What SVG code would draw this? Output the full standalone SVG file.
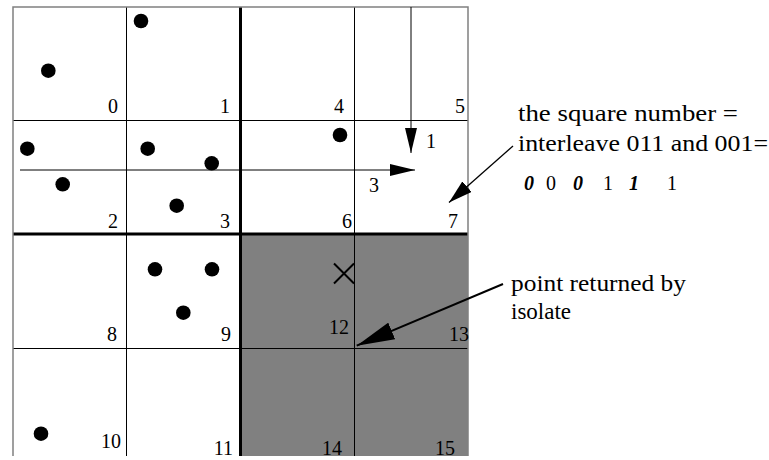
<svg xmlns="http://www.w3.org/2000/svg" width="769" height="460" viewBox="0 0 769 460">
  <style>
    text { font-family: "Liberation Serif", "Times New Roman", serif; fill: #000; }
    .num { font-size: 20px; text-anchor: end; }
    .lbl { font-size: 23px; }
    .arrlbl { font-size: 20px; text-anchor: middle; }
    .bits { font-size: 20px; }
    .bi { font-weight: bold; font-style: italic; }
    .thin { stroke: #000; stroke-width: 1; fill: none; }
    .thick { stroke: #000; stroke-width: 3; fill: none; }
    .border { stroke: #808080; stroke-width: 1.5; fill: none; }
    .pt { fill: #000; }
    .conn { stroke: #000; fill: none; }
  </style>
  <defs>
    <marker id="headS" markerUnits="userSpaceOnUse" markerWidth="25" markerHeight="12" refX="25" refY="6" orient="auto">
      <path d="M0,0 L25,6 L0,12 z" fill="#000"/>
    </marker>
    <marker id="headM" markerUnits="userSpaceOnUse" markerWidth="24" markerHeight="14" refX="24" refY="7" orient="auto">
      <path d="M0,0 L24,7 L0,14 z" fill="#000"/>
    </marker>
    <marker id="headL" markerUnits="userSpaceOnUse" markerWidth="38" markerHeight="18" refX="38" refY="9" orient="auto">
      <path d="M0,0 L38,9 L0,18 z" fill="#000"/>
    </marker>
  </defs>

  <rect width="769" height="460" fill="#fff"/>

  <rect id="shaded" x="240.5" y="234" width="227.5" height="222" fill="#808080"/>

  <g id="grid">
    <line class="thin" x1="126.5" y1="7" x2="126.5" y2="456"/>
    <line class="thin" x1="354.5" y1="7" x2="354.5" y2="456"/>
    <line class="thin" x1="13" y1="120.5" x2="468" y2="120.5"/>
    <line class="thin" x1="13" y1="348.5" x2="468" y2="348.5"/>
    <line class="thick" x1="240.5" y1="7" x2="240.5" y2="456"/>
    <line class="thick" x1="13" y1="234" x2="468" y2="234"/>
    <polyline class="border" points="13,456 13,7 468,7 468,456"/>
  </g>

  <g id="cells">
    <g id="cell-0"><text class="num" x="118" y="113">0</text></g>
    <g id="cell-1"><text class="num" x="230" y="113">1</text></g>
    <g id="cell-4"><text class="num" x="344" y="113">4</text></g>
    <g id="cell-5"><text class="num" x="465" y="113">5</text></g>
    <g id="cell-2"><text class="num" x="118" y="228">2</text></g>
    <g id="cell-3"><text class="num" x="230" y="228">3</text></g>
    <g id="cell-6"><text class="num" x="352" y="228">6</text></g>
    <g id="cell-7"><text class="num" x="458" y="228">7</text></g>
    <g id="cell-8"><text class="num" x="117" y="341">8</text></g>
    <g id="cell-9"><text class="num" x="231" y="341">9</text></g>
    <g id="cell-12"><text class="num" x="349" y="334">12</text></g>
    <g id="cell-13"><text class="num" x="469" y="341">13</text></g>
    <g id="cell-10"><text class="num" x="121" y="448">10</text></g>
    <g id="cell-11"><text class="num" x="233" y="455">11</text></g>
    <g id="cell-14"><text class="num" x="342" y="455">14</text></g>
    <g id="cell-15"><text class="num" x="455" y="455">15</text></g>
  </g>

  <g id="points">
    <circle class="pt" cx="141" cy="21" r="7.3"/>
    <circle class="pt" cx="48.3" cy="70.7" r="7.3"/>
    <circle class="pt" cx="27.3" cy="148.7" r="7.3"/>
    <circle class="pt" cx="147.7" cy="148.7" r="7.3"/>
    <circle class="pt" cx="211.7" cy="163.3" r="7.3"/>
    <circle class="pt" cx="62.7" cy="184.3" r="7.3"/>
    <circle class="pt" cx="176.7" cy="205.7" r="7.3"/>
    <circle class="pt" cx="340" cy="135" r="7.3"/>
    <circle class="pt" cx="155" cy="269.3" r="7.3"/>
    <circle class="pt" cx="212" cy="269.3" r="7.3"/>
    <circle class="pt" cx="183.3" cy="312.7" r="7.3"/>
    <circle class="pt" cx="41" cy="433.7" r="7.3"/>
  </g>

  <g id="query">
    <path d="M334,263.5 L354,283.5 M354,263.5 L334,283.5" stroke="#000" stroke-width="2" fill="none"/>
  </g>

  <g id="connectors">
    <line class="conn" stroke-width="1" x1="20" y1="170" x2="415" y2="170" marker-end="url(#headS)"/>
    <line class="conn" stroke-width="1" x1="411" y1="7" x2="411" y2="153" marker-end="url(#headS)"/>
    <line class="conn" stroke-width="1.3" x1="513" y1="146" x2="449" y2="202.5" marker-end="url(#headM)"/>
    <line class="conn" stroke-width="2" x1="503" y1="284" x2="356.7" y2="345.7" marker-end="url(#headL)"/>
  </g>

  <g id="arrow-labels">
    <text class="arrlbl" x="431" y="148">1</text>
    <text class="arrlbl" x="374" y="192">3</text>
  </g>

  <g id="note-square">
    <text class="lbl" x="518" y="121" textLength="220" lengthAdjust="spacingAndGlyphs">the square number =</text>
    <text class="lbl" x="518" y="150.5" textLength="250" lengthAdjust="spacingAndGlyphs">interleave 011 and 001=</text>
    <text class="bits bi" x="524" y="190">0</text>
    <text class="bits" x="546" y="190">0</text>
    <text class="bits bi" x="573" y="190">0</text>
    <text class="bits" x="603" y="190">1</text>
    <text class="bits bi" x="629" y="190">1</text>
    <text class="bits" x="667" y="190">1</text>
  </g>
  <g id="note-isolate">
    <text class="lbl" x="511" y="291" textLength="175" lengthAdjust="spacingAndGlyphs">point returned by</text>
    <text class="lbl" x="511" y="319">isolate</text>
  </g>
</svg>
